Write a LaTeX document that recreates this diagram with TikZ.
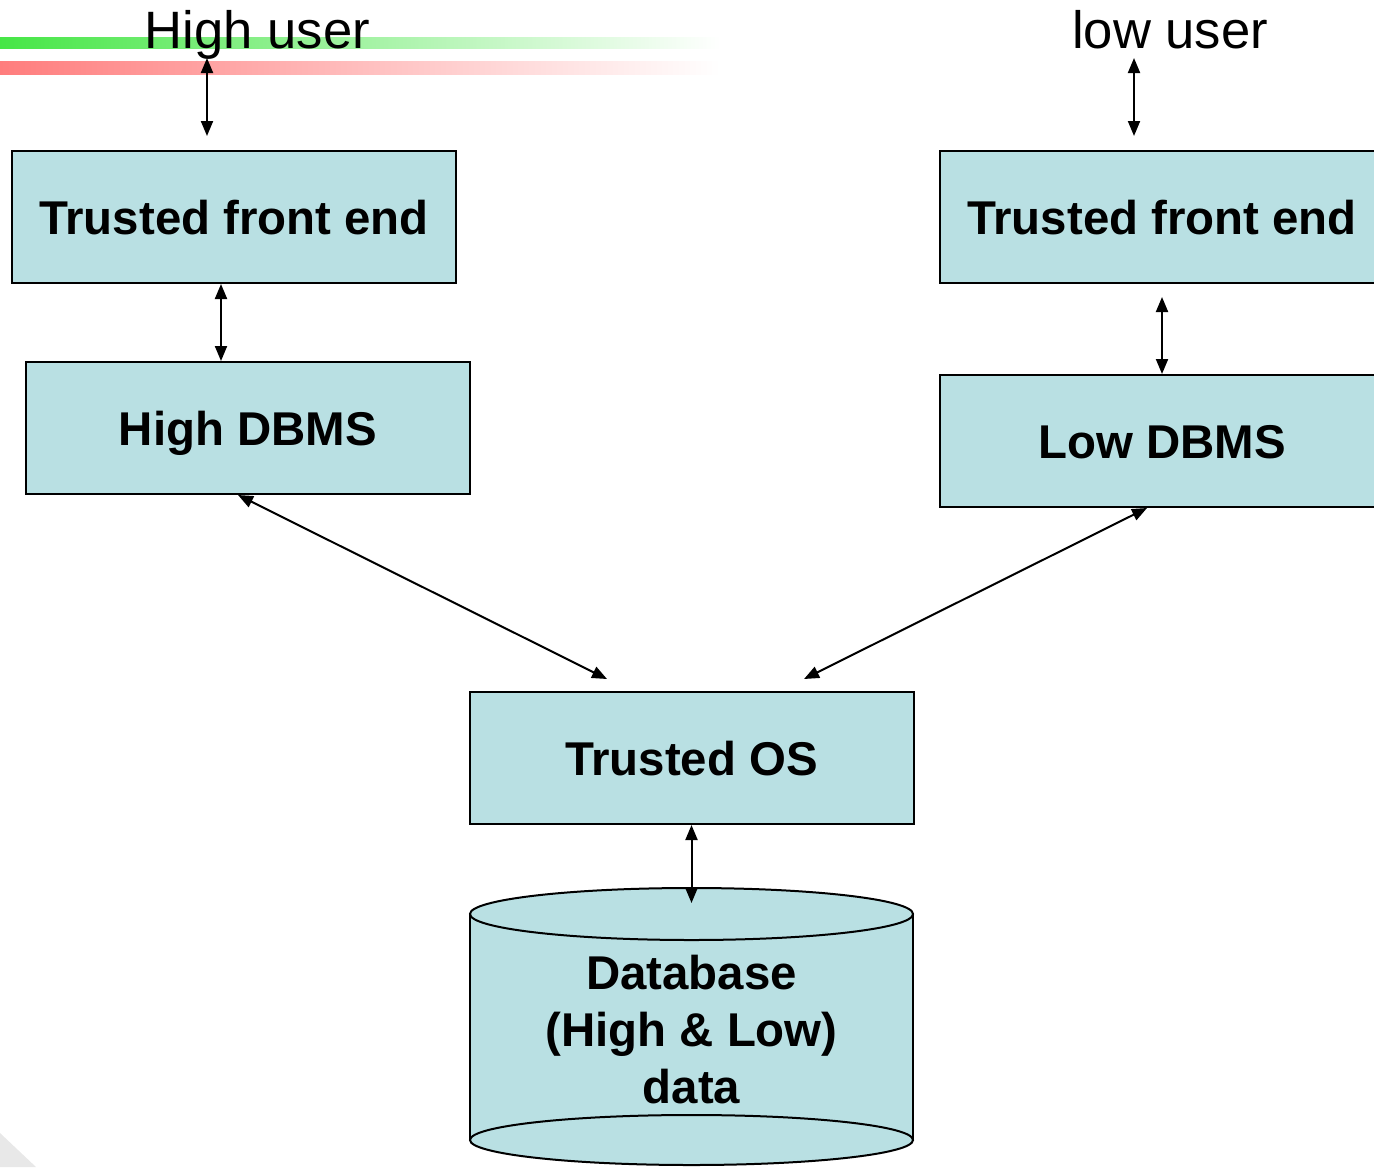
\documentclass[tikz,border=0pt]{standalone}
\usepackage{fontspec}
\setmainfont{Liberation Sans}
\usetikzlibrary{arrows.meta}
\definecolor{boxfill}{RGB}{185,224,227}
\definecolor{bargreen}{RGB}{70,230,70}
\definecolor{barred}{RGB}{255,125,125}
\begin{document}
\begin{tikzpicture}[x=0.5pt,y=-0.5pt,
  boxnode/.style={draw=black,line width=1pt,fill=boxfill,minimum width=222pt,minimum height=66pt,
    inner sep=0pt,font=\fontsize{23.7}{28.5}\selectfont\bfseries,text height=17pt,text depth=0pt},
  usertext/.style={font=\fontsize{26.3}{31}\selectfont,anchor=base,inner sep=0pt},
  biarrow/.style={line width=1pt,{Triangle[length=7.5pt,width=6pt]}-{Triangle[length=7.5pt,width=6pt]}}]
\useasboundingbox (0,0) rectangle (1374,1167);
\clip (0,0) rectangle (1374,1167);
% slide decoration bars
\shade[left color=bargreen,right color=white] (0,37) rectangle (720,48);
\shade[left color=barred,right color=white] (0,61) rectangle (720,74);
\fill[gray!18] (0,1133) -- (36,1167) -- (0,1167) -- cycle;
% user labels
\node[usertext] (hu) at (257.5,48) {High user};
\node[usertext] (lu) at (1170,48) {low user};
% boxes
\node[boxnode] (tfl) at (234,217) {Trusted front end};
\node[boxnode] (hdb) at (248,428) {High DBMS};
\node[boxnode] (tfr) at (1162,217) {Trusted front end};
\node[boxnode] (ldb) at (1162,441) {Low DBMS};
\node[boxnode] (os) at (691.5,758) {Trusted OS};
% database cylinder
\fill[boxfill] (470,914) rectangle (913,1140);
\draw[line width=1pt] (470,914) -- (470,1140) (913,914) -- (913,1140);
\draw[line width=1pt,fill=boxfill] (691.5,1140) ellipse [x radius=110.75pt,y radius=12.5pt];
\draw[line width=1pt,fill=boxfill] (691.5,914) ellipse [x radius=110.75pt,y radius=13pt];
\node[font=\fontsize{23.7}{28.5}\selectfont\bfseries,align=center,inner sep=0pt] (db) at (691.5,1030) {Database\\(High \& Low)\\data};
\coordinate (dbtop) at (691.5,903);
% connectors
\coordinate (hua) at (207,58);
\coordinate (lua) at (1134,58);
\draw[biarrow,shorten >=7pt] (hua) -- (hua |- tfl.north);
\draw[biarrow,shorten >=7pt] (lua) -- (lua |- tfr.north);
\draw[biarrow] ([xshift=-6.5pt]tfl.south) -- ([xshift=-6.5pt]tfl.south |- hdb.north);
\draw[biarrow,shorten <=6.5pt] (tfr.south) -- (ldb.north);
\draw[biarrow] ([xshift=-5pt]hdb.south) -- ([shift={(-84.5,-12)}]os.north);
\draw[biarrow] ([xshift=-7.5pt]ldb.south) -- ([shift={(112.5,-12)}]os.north);
\draw[biarrow] (os.south) -- (dbtop);
\end{tikzpicture}
\end{document}
